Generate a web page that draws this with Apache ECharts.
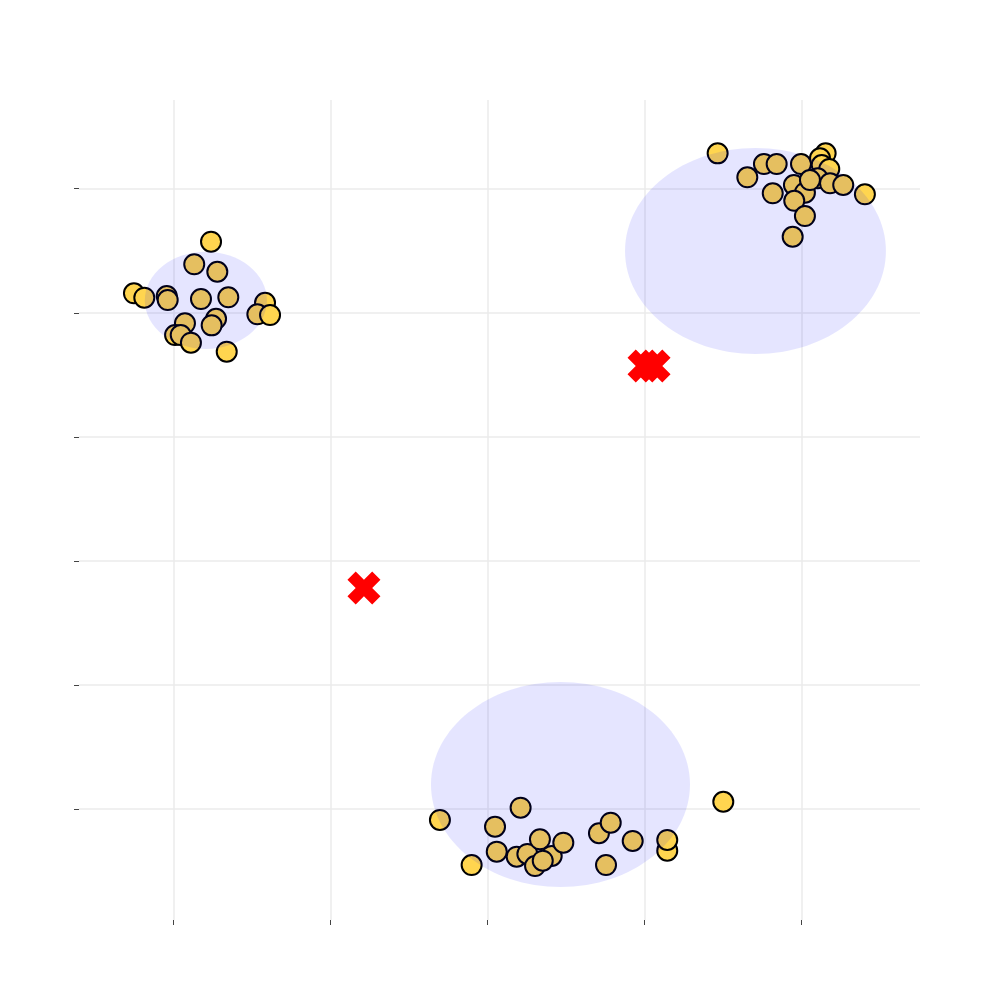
<!DOCTYPE html>
<html>
<head>
<meta charset="utf-8">
<script src="https://cdn.jsdelivr.net/npm/echarts@6/dist/echarts.min.js"></script>
<style>html,body{margin:0;padding:0;background:#fff;}#c{width:1000px;height:1000px;}</style>
</head>
<body>
<div id="c"></div>
<script>
// Data points (three clusters)
var cluster1 = [[-1.761,2.573],[-1.868,2.391],[-1.721,2.331],[-2.252,2.157],[-2.186,2.122],[-2.043,2.135],[-2.037,2.103],[-1.825,2.111],[-1.651,2.125],[-1.417,2.081],[-1.466,1.988],[-1.385,1.982],[-1.729,1.952],[-1.757,1.899],[-1.927,1.915],[-1.990,1.821],[-1.954,1.821],[-1.889,1.759],[-1.661,1.687]];
var cluster2 = [[1.466,3.285],[1.655,3.092],[1.761,3.199],[1.842,3.199],[1.997,3.199],[2.154,3.285],[2.118,3.245],[2.129,3.191],[2.177,3.159],[2.103,3.084],[2.182,3.044],[2.266,3.030],[2.404,2.955],[1.952,3.030],[2.022,2.968],[1.954,2.903],[1.817,2.963],[2.022,2.780],[1.944,2.613],[2.054,3.070]];
var cluster3 = [[-0.303,-2.087],[-0.101,-2.450],[0.048,-2.141],[0.059,-2.342],[0.211,-1.988],[0.186,-2.383],[0.254,-2.361],[0.334,-2.243],[0.303,-2.458],[0.409,-2.377],[0.352,-2.415],[0.483,-2.270],[0.710,-2.194],[0.785,-2.109],[0.755,-2.450],[0.925,-2.256],[1.145,-2.334],[1.145,-2.248],[1.502,-1.940]];
// Ellipses: [cx, cy, rx, ry] in data units
var ellipses = [[-1.794,2.101,0.389,0.392],[1.707,2.498,0.831,0.830],[0.465,-1.801,0.825,0.826]];
// Centroid markers
var centroids = [[-0.787,-0.218],[0.997,1.571],[1.061,1.571]];
// Tick values
var xTicks = [-2,-1,0,1,2];
var yTicks = [-2,-1,0,1,2,3];

var points = cluster1.concat(cluster2).concat(cluster3);
var xPath = 'path://M0,2.5L2.5,0L5,2.5L7.5,0L10,2.5L7.5,5L10,7.5L7.5,10L5,7.5L2.5,10L0,7.5L2.5,5Z';

var chart = echarts.init(document.getElementById('c'), null, {renderer:'canvas'});
chart.setOption({
  animation: false,
  backgroundColor: '#ffffff',
  grid: {left: 79, right: 80, top: 100, bottom: 80, containLabel: false},
  xAxis: {
    type: 'value', min: -2.602, max: 2.755, position: 'bottom',
    axisLine: {show: false, onZero: false},
    axisTick: {show: true, customValues: xTicks, length: 5, lineStyle: {color: '#444', width: 1}},
    axisLabel: {show: false},
    splitLine: {show: true, lineStyle: {color: '#ebebeb', width: 1.5}}
  },
  yAxis: {
    type: 'value', min: -2.893, max: 3.715, position: 'left',
    axisLine: {show: false, onZero: false},
    axisTick: {show: true, customValues: yTicks, length: 5, lineStyle: {color: '#444', width: 1}},
    axisLabel: {show: false},
    splitLine: {show: true, lineStyle: {color: '#ebebeb', width: 1.5}}
  },
  series: [
    {
      type: 'scatter', data: points, symbol: 'circle', symbolSize: 20, z: 2,
      itemStyle: {color: '#ffd54f', borderColor: '#000000', borderWidth: 2, opacity: 1}
    },
    {
      type: 'custom', data: ellipses, z: 3, silent: true,
      renderItem: function (params, api) {
        var c = api.coord([api.value(0), api.value(1)]);
        var s = api.size([api.value(2), api.value(3)]);
        return {type: 'ellipse', shape: {cx: c[0], cy: c[1], rx: s[0], ry: s[1]}, style: {fill: 'rgba(0,0,255,0.1)', stroke: null}};
      },
      encode: {x: 0, y: 1}
    },
    {
      type: 'scatter', data: centroids, symbol: xPath, symbolSize: 33, z: 4,
      itemStyle: {color: '#ff0000', opacity: 1}
    }
  ]
});
</script>
</body>
</html>
